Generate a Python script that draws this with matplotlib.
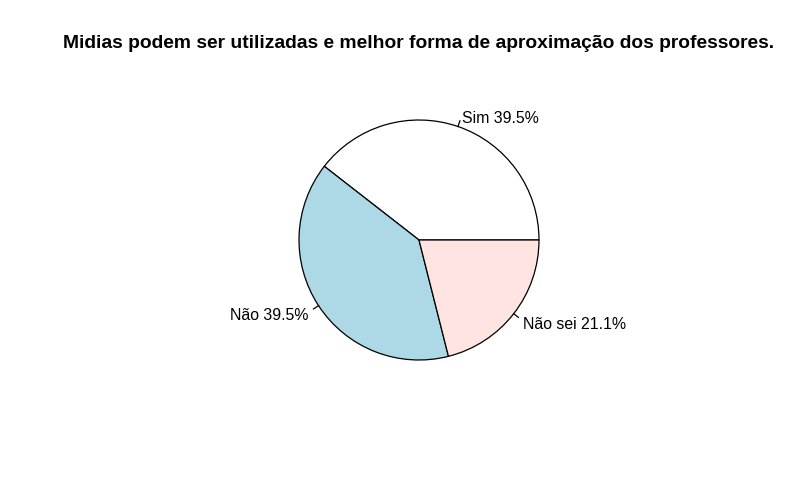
import numpy as np
import matplotlib
matplotlib.use("Agg")
import matplotlib.pyplot as plt

categories = ["Sim", "Não", "Não sei"]
values = [15, 15, 8]
colors = ["white", "lightblue", "mistyrose"]
title = "Midias podem ser utilizadas e melhor forma de aproximação dos professores."

plt.rcParams['font.family'] = ['Liberation Sans', 'DejaVu Sans']

W, H = 800, 500
fig = plt.figure(figsize=(W/100, H/100), dpi=100)
ax = fig.add_axes([0, 0, 1, 1])

cx, cy, r = 419, H - 240, 120
total = sum(values)
wedges, _ = ax.pie(values, colors=colors, startangle=0, counterclock=True,
                   center=(cx, cy), radius=r, frame=True,
                   wedgeprops=dict(edgecolor='black', linewidth=0.9))
ax.set_xlim(0, W)
ax.set_ylim(0, H)
ax.set_aspect('equal')
ax.axis('off')

for w, cat, v in zip(wedges, categories, values):
    mid = np.deg2rad((w.theta1 + w.theta2) / 2)
    c, s = np.cos(mid), np.sin(mid)
    ax.plot([cx + r*c, cx + 1.05*r*c], [cy + r*s, cy + 1.05*r*s], color='black', lw=0.9)
    ax.text(cx + 1.1*r*c, cy + 1.1*r*s - 3, f"{cat} {100*v/total:.1f}%",
            ha='left' if c >= 0 else 'right', va='center', fontsize=11.4)

fig.text(419/W, 1 - 43/H, title, ha='center', va='center', fontsize=13.9, fontweight='bold')

fig.savefig("out.png", dpi=100)
